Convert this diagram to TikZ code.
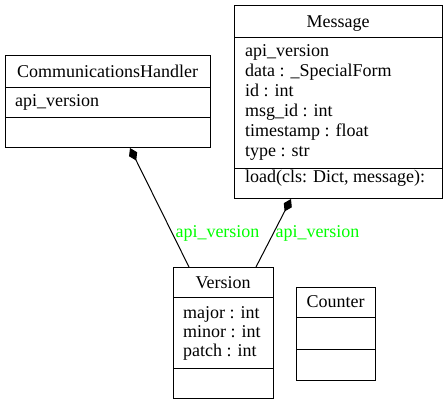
\documentclass[tikz,border=0pt]{standalone}
\usepackage{fontspec}
\setmainfont{Liberation Serif}
\usetikzlibrary{arrows.meta}
\definecolor{lblgreen}{RGB}{0,255,0}
\begin{document}
\begin{tikzpicture}[x=1pt,y=-1pt,
  comp/.style={draw,line width=1pt,inner sep=0pt,outer sep=0pt,anchor=north west},
  txt/.style={font=\fontsize{18}{20}\selectfont,inner sep=0pt,anchor=base},
  attr/.style={txt,anchor=base west},
  lbl/.style={txt,text=lblgreen},
  compedge/.style={line width=1pt,-{Diamond[length=14pt,width=9pt,fill=black]}}]
\useasboundingbox (0,0) rectangle (448,405);
% CommunicationsHandler
\node[comp,minimum width=205pt,minimum height=32pt] (chh) at (5,55) {};
\node[comp,minimum width=205pt,minimum height=30pt] (cha) at (5,87) {};
\node[comp,minimum width=205pt,minimum height=30pt] (chm) at (5,117) {};
\node[txt] (cht) at (107.5,77) {CommunicationsHandler};
\node[attr] (cha1) at (15,106) {api\_version};
% Message
\node[comp,minimum width=208pt,minimum height=32pt] (mh) at (234,5) {};
\node[comp,minimum width=208pt,minimum height=131pt] (ma) at (234,37) {};
\node[comp,minimum width=208pt,minimum height=30pt] (mm) at (234,168) {};
\node[txt] (mt) at (338,27) {Message};
\node[attr] (ma1) at (245,56) {api\_version};
\node[attr] (ma2) at (245,76) {data : \_SpecialForm};
\node[attr] (ma3) at (245,96) {id : int};
\node[attr] (ma4) at (245,116) {msg\_id : int};
\node[attr] (ma5) at (245,136) {timestamp : float};
\node[attr] (ma6) at (245,156) {type : str};
\node[attr] (mm1) at (245,182) {load(cls: Dict, message):};
% Version
\node[comp,minimum width=100pt,minimum height=30pt] (vh) at (173,267) {};
\node[comp,minimum width=100pt,minimum height=71pt] (va) at (173,297) {};
\node[comp,minimum width=100pt,minimum height=30pt] (vm) at (173,368) {};
\node[txt] (vt) at (223,288) {Version};
\node[attr] (va1) at (183,318) {major : int};
\node[attr] (va2) at (183,337) {minor : int};
\node[attr] (va3) at (183,356) {patch : int};
% Counter
\node[comp,minimum width=79pt,minimum height=30pt] (ch) at (296,287) {};
\node[comp,minimum width=79pt,minimum height=32pt] (ca) at (296,317) {};
\node[comp,minimum width=79pt,minimum height=31pt] (cm) at (296,349) {};
\node[txt] (ct) at (335.5,307) {Counter};
% edges
\coordinate (chtip) at (130,148);
\coordinate (vin1) at (189,267);
\coordinate (mtip) at (291,199);
\coordinate (vin2) at (256,267);
\draw[compedge] (vin1) -- (chtip);
\draw[compedge] (vin2) -- (mtip);
\node[lbl] (l1) at (217.5,237) {api\_version};
\node[lbl] (l2) at (317.5,237) {api\_version};
\end{tikzpicture}
\end{document}
